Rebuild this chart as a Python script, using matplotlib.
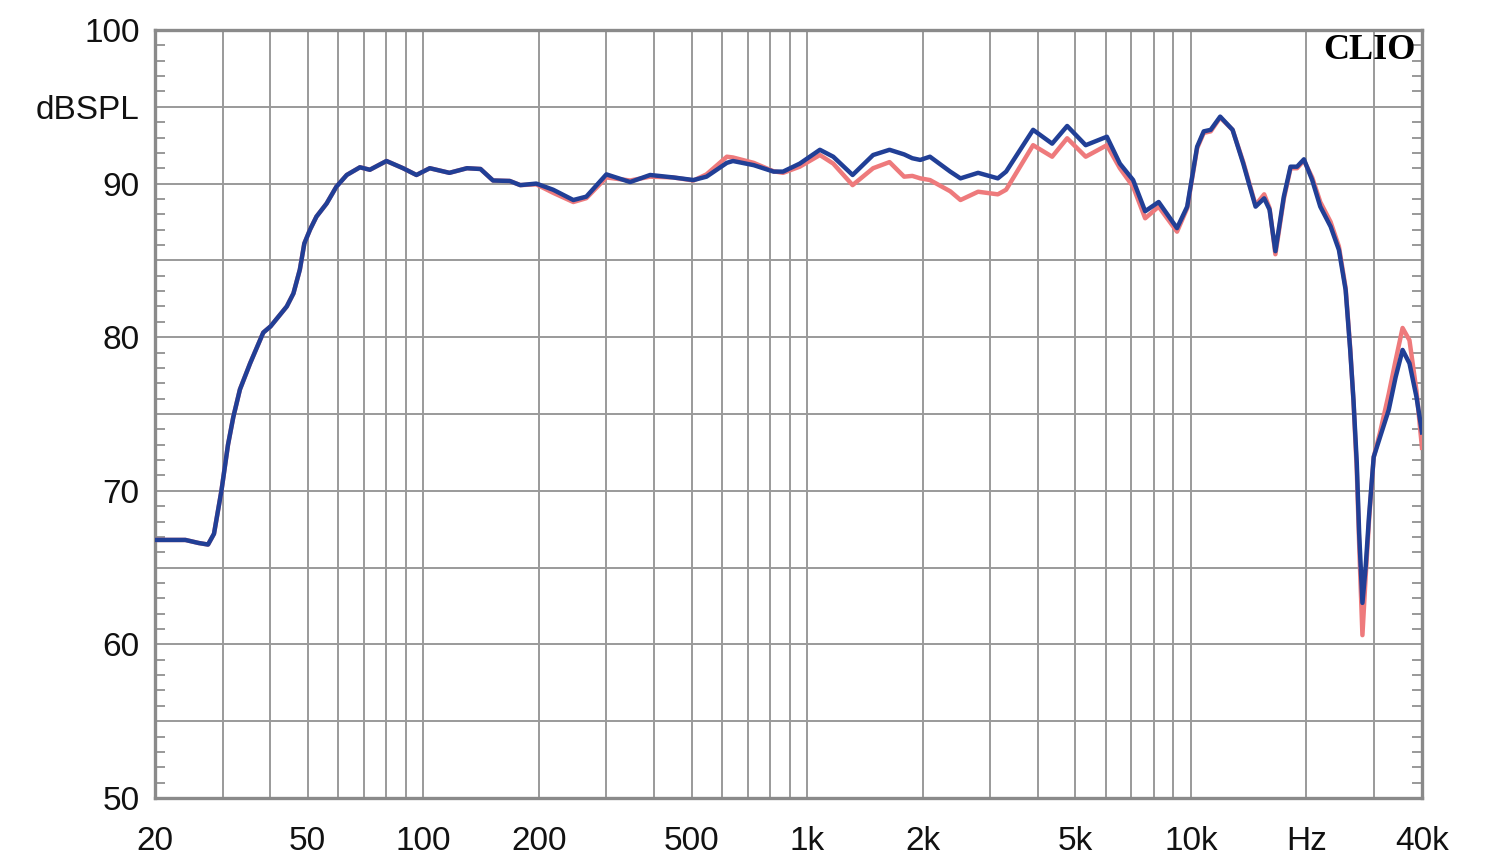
import matplotlib
matplotlib.use("Agg")
from matplotlib import pyplot as plt

# frequency response
freq = [20, 24, 26, 27.5, 28.5, 29.8, 31, 32, 33.3, 35.4, 38.3, 40, 44.1, 45.9, 47.7,
        49, 50.7, 52.7, 56, 59.4, 63.2, 68.4, 72.6, 80.2, 88.6, 96, 104, 117, 130,
        141, 152, 168, 179, 197, 218, 246, 266, 300, 346, 390, 448, 506, 547, 618,
        641, 726, 818, 866, 957, 1080, 1170, 1314, 1486, 1640, 1790, 1880, 1972,
        2090, 2360, 2510, 2790, 3140, 3300, 3880, 4350, 4760, 5320, 6040, 6530,
        7070, 7600, 8240, 9200, 9780, 10380, 10800, 11260, 11920, 12840, 13690,
        14240, 14740, 15520, 16030, 16600, 17460, 18180, 18900, 19700, 20700,
        21730, 23120, 24300, 25300, 26000, 26520, 27050, 27440, 27980, 28540,
        29100, 29940, 31100, 32760, 34150, 35600, 37100, 38700, 40000]

blue_db = [66.8, 66.8, 66.6, 66.5, 67.2, 70.0, 73.0, 74.8, 76.6, 78.3, 80.3, 80.7, 82.0,
           82.85, 84.4, 86.1, 87.0, 87.85, 88.7, 89.8, 90.56, 91.06, 90.9, 91.47, 91.0,
           90.56, 91.0, 90.7, 91.0, 90.95, 90.2, 90.17, 89.9, 90.0, 89.6, 88.93, 89.15,
           90.6, 90.1, 90.56, 90.4, 90.23, 90.45, 91.35, 91.47, 91.2, 90.78, 90.78, 91.3,
           92.2, 91.75, 90.56, 91.86, 92.2, 91.9, 91.65, 91.54, 91.75, 90.78, 90.34, 90.7,
           90.34, 90.78, 93.5, 92.6, 93.75, 92.5, 93.05, 91.3, 90.23, 88.2, 88.8, 87.1,
           88.5, 92.4, 93.4, 93.5, 94.36, 93.5, 91.3, 89.8, 88.5, 89.04, 88.3, 85.6,
           89.15, 91.1, 91.1, 91.58, 90.23, 88.5, 87.2, 85.68, 83.07, 79.17, 75.9, 71.8,
           67.2, 62.7, 65.1, 68.3, 72.2, 73.5, 75.26, 77.4, 79.17, 78.3, 76.1, 73.8]

red_db = [66.8, 66.8, 66.6, 66.5, 67.2, 70.0, 73.0, 74.8, 76.6, 78.3, 80.3, 80.7, 82.0,
          82.85, 84.4, 86.1, 87.0, 87.85, 88.7, 89.8, 90.56, 91.06, 90.9, 91.47, 91.0,
          90.56, 91.0, 90.7, 91.0, 90.95, 90.2, 90.17, 89.9, 89.95, 89.4, 88.8, 89.05,
          90.4, 90.2, 90.45, 90.4, 90.2, 90.6, 91.75, 91.7, 91.35, 90.8, 90.7, 91.1,
          91.86, 91.3, 89.9, 91.0, 91.4, 90.45, 90.5, 90.34, 90.23, 89.5, 88.93, 89.47,
          89.3, 89.6, 92.5, 91.75, 92.95, 91.75, 92.5, 91.0, 89.8, 87.74, 88.5, 86.87,
          88.4, 92.3, 93.3, 93.4, 94.3, 93.5, 91.4, 89.9, 88.6, 89.3, 88.4, 85.4,
          89.0, 91.0, 91.0, 91.5, 90.4, 88.8, 87.5, 85.9, 83.2, 79.3, 75.8, 71.3,
          66.5, 60.6, 64.5, 68.0, 72.2, 73.8, 76.3, 78.5, 80.6, 79.8, 76.5, 72.8]

x_grid = [20, 30, 40, 50, 60, 70, 80, 90, 100, 200, 300, 400, 500, 600, 700, 800, 900,
          1000, 2000, 3000, 4000, 5000, 6000, 7000, 8000, 9000, 10000, 20000, 30000, 40000]
x_labels = {20: "20", 50: "50", 100: "100", 200: "200", 500: "500", 1000: "1k",
            2000: "2k", 5000: "5k", 10000: "10k", 20000: "Hz", 40000: "40k"}
y_grid = [50, 55, 60, 65, 70, 75, 80, 85, 90, 95, 100]
y_labels = {50: "50", 60: "60", 70: "70", 80: "80", 90: "90", 95: "dBSPL", 100: "100"}

plt.rcParams['font.family'] = ['Liberation Sans', 'DejaVu Sans']

fig = plt.figure(figsize=(15, 8.64), dpi=100)
ax = fig.add_axes([0.1033, 0.0764, 0.8447, 0.8889])

ax.plot(freq, red_db, color="#ee7a7c", lw=3.2, zorder=3)
ax.plot(freq, blue_db, color="#213f96", lw=3.2, zorder=4)

ax.set_xscale("log")
ax.set_xlim(20, 40000)
ax.set_ylim(50, 100)

ax.set_xticks(x_grid)
ax.set_xticklabels([x_labels.get(f, "") for f in x_grid])
ax.xaxis.set_minor_locator(matplotlib.ticker.NullLocator())
ax.set_yticks(y_grid)
ax.set_yticklabels([y_labels.get(v, "") for v in y_grid])
ax.set_yticks(range(50, 101), minor=True)

ax.tick_params(axis="both", which="major", length=0, labelsize=24, colors="#111111")
ax.tick_params(axis="x", which="major", pad=20)
ax.tick_params(axis="y", which="major", pad=11)
ax.tick_params(axis="y", which="minor", direction="in", length=7, width=1.2,
               color="#888888", left=True, right=True)

ax.grid(which="major", color="#9a9a9a", lw=1.4)
ax.set_axisbelow(True)
for s in ax.spines.values():
    s.set_color("#8a8a8a")
    s.set_linewidth(2.4)

ax.text(0.995, 0.995, "CLIO", transform=ax.transAxes, ha="right", va="top",
        family="Liberation Serif", fontweight="bold", fontsize=26, zorder=5)

plt.savefig("out.png")
